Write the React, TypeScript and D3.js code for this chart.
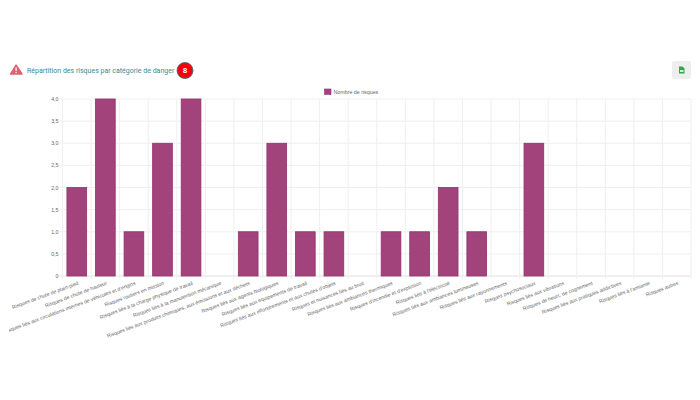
import React from 'react';
import * as d3 from 'd3';

const categories = [
  'Risques de chute de plain-pied',
  'Risques de chute de hauteur',
  'Risques liés aux circulations internes de véhicules et d\'engins',
  'Risques routiers en mission',
  'Risques liés à la charge physique de travail',
  'Risques liés à la manutention mécanique',
  'Risques liés aux produits chimiques, aux émissions et aux déchets',
  'Risques liés aux agents biologiques',
  'Risques liés aux équipements de travail',
  'Risques liés aux effondrements et aux chutes d\'objets',
  'Risques et nuisances liés au bruit',
  'Risques liés aux ambiances thermiques',
  'Risques d\'incendie et d\'explosion',
  'Risques liés à l\'électricité',
  'Risques liés aux ambiances lumineuses',
  'Risques liés aux rayonnements',
  'Risques psychosociaux',
  'Risques liés aux vibrations',
  'Risques de heurt, de cognement',
  'Risques liés aux pratiques addictives',
  'Risques liés à l\'amiante',
  'Risques autres',
];
const values = [2, 4, 1, 3, 4, 0, 1, 3, 1, 1, 0, 1, 1, 2, 1, 0, 3, 0, 0, 0, 0, 0];
const yTicks = [0, 0.5, 1, 1.5, 2, 2.5, 3, 3.5, 4];
const yLabels = ['0', '0,5', '1,0', '1,5', '2,0', '2,5', '3,0', '3,5', '4,0'];
const seriesName = 'Nombre de risques';
const chartTitle = 'Répartition des risques par catégorie de danger';
const badgeCount = '8';

const width = 700;
const height = 400;
const left = 62.5;
const right = 691;
const top = 99;
const bottom = 276;
const font = '"Liberation Sans", Arial, sans-serif';
const titleFont = 'Roboto, sans-serif';
const gridColor = '#efefef';

export default function App() {
  const x = d3.scaleBand<number>().domain(d3.range(categories.length)).range([left, right]).paddingInner(0.31).paddingOuter(0.155);
  const band = d3.scaleBand<number>().domain(d3.range(categories.length)).range([left, right]);
  const y = d3.scaleLinear().domain([0, 4]).range([bottom, top]);

  return (
    <svg width={width} height={height} viewBox={`0 0 ${width} ${height}`}
      style={{ position: 'absolute', left: 0, top: 0, background: '#fff' }}>
      <defs>
        <clipPath id="labels-clip"><rect x={9} y={0} width={width} height={height} /></clipPath>
      </defs>

      {/* header */}
      <path d="M16 65 L22 74 L10.5 74 Z" fill="#e0616f" stroke="#e0616f" strokeWidth={1.4} strokeLinejoin="round" />
      <rect x={15.5} y={67.5} width={1.2} height={3.6} fill="#fff" />
      <rect x={15.5} y={72} width={1.2} height={1.2} fill="#fff" />
      <text x={27} y={72.5} fontFamily={titleFont} fontSize={7} fill="#3a8a94">{chartTitle}</text>
      <circle cx={185} cy={70.5} r={8} fill="#f5000c" stroke="#2f6f73" strokeWidth={0.8} />
      <text x={185} y={73.4} textAnchor="middle" fontFamily={titleFont} fontSize={8} fontWeight={700} fill="#fff">{badgeCount}</text>

      {/* export button */}
      <rect x={672} y={61} width={19} height={18} rx={2} fill="#eeeeee" />
      <path d="M679 66.5 h3.5 l2 2 v5 h-5.5 Z" fill="#2fa84f" />
      <rect x={680} y={70} width={3.5} height={2} fill="#d8f0dd" />

      {/* legend */}
      <rect x={324.5} y={89} width={6.5} height={5.5} fill="#a2437c" stroke="#93306f" strokeWidth={0.6} />
      <text x={333.5} y={94} fontFamily={font} fontSize={5.3} fill="#666">{seriesName}</text>

      {/* grid */}
      {yTicks.map((t) => (
        <line key={t} x1={left - 3} x2={right} y1={y(t)} y2={y(t)} stroke={t === 0 ? '#e0e0e0' : gridColor} strokeWidth={1} />
      ))}
      {d3.range(categories.length + 1).map((i) => {
        const gx = left + i * band.step();
        return <line key={i} x1={gx} x2={gx} y1={top} y2={bottom + 3} stroke={gridColor} strokeWidth={1} />;
      })}

      {/* y labels */}
      {yTicks.map((t, i) => (
        <text key={t} x={left - 4} y={y(t) + 2} textAnchor="end" fontFamily={font} fontSize={5.3} fill="#666">{yLabels[i]}</text>
      ))}

      {/* bars */}
      {values.map((v, i) => v > 0 && (
        <rect key={i} x={x(i)} y={y(v)} width={x.bandwidth()} height={bottom - y(v)}
          fill="#a2437c" stroke="#93306f" strokeWidth={0.8} />
      ))}

      {/* x labels */}
      <g clipPath="url(#labels-clip)">
        {categories.map((c, i) => {
          const cx = (band(i) as number) + band.bandwidth() / 2;
          return (
            <text key={c} transform={`translate(${cx + 2},${284.5}) rotate(-20.5)`} textAnchor="end"
              fontFamily={font} fontSize={5.15} fill="#666">{c}</text>
          );
        })}
      </g>
    </svg>
  );
}
